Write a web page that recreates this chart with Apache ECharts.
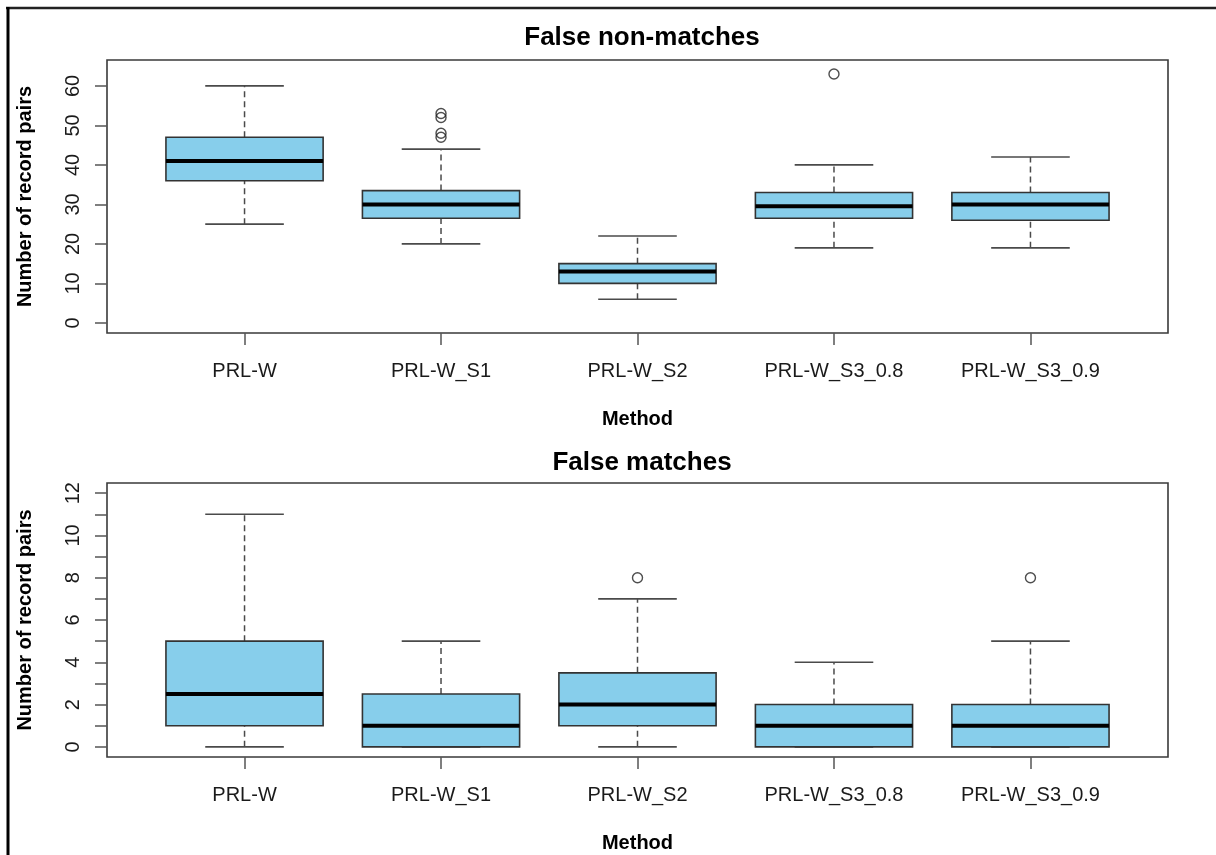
<!DOCTYPE html>
<html>
<head>
<meta charset="utf-8">
<title>False non-matches and false matches by method</title>
<script src="https://cdn.jsdelivr.net/npm/echarts@6/dist/echarts.min.js"></script>
<style>
  html, body { margin: 0; padding: 0; background: #fff; }
  #chart { width: 1216px; height: 855px; }
</style>
</head>
<body>
<div id="chart"></div>
<script>
// Methods compared, in plotting order (x positions 1..5)
const methods = ['PRL-W', 'PRL-W_S1', 'PRL-W_S2', 'PRL-W_S3_0.8', 'PRL-W_S3_0.9'];

// False non-matches: five-number summaries per method
const fnmLow    = [25, 20, 6, 19, 19];
const fnmQ1     = [36, 26.5, 10, 26.5, 26];
const fnmMedian = [41, 30, 13, 29.5, 30];
const fnmQ3     = [47, 33.5, 15, 33, 33];
const fnmHigh   = [60, 44, 22, 40, 42];
// outliers as [method position, value]
const fnmOutliers = [[2, 47], [2, 48], [2, 52], [2, 53], [4, 63]];

// False matches: five-number summaries per method
const fmLow    = [0, 0, 0, 0, 0];
const fmQ1     = [1, 0, 1, 0, 0];
const fmMedian = [2.5, 1, 2, 1, 1];
const fmQ3     = [5, 2.5, 3.5, 2, 2];
const fmHigh   = [11, 5, 7, 4, 5];
const fmOutliers = [[3, 8], [5, 8]];

// Tick values
const fnmTicks = [0, 10, 20, 30, 40, 50, 60];
const fmTicks = [0, 1, 2, 3, 4, 5, 6, 7, 8, 9, 10, 11, 12];
const fmTickLabels = [0, 2, 4, 6, 8, 10, 12];
const methodPositions = [1, 2, 3, 4, 5];

const FONT = '"Liberation Sans", Arial, Helvetica, sans-serif';
const BOX_FILL = '#87CEEB';

function boxRows(low, q1, med, q3, high) {
  return methods.map((m, i) => [i + 1, low[i], q1[i], med[i], q3[i], high[i]]);
}

// Draws one box-and-whisker glyph from a row [x, low, q1, median, q3, high]
function renderBox(params, api) {
  const x = api.value(0);
  const pLow = api.coord([x, api.value(1)]);
  const pQ1 = api.coord([x, api.value(2)]);
  const pMed = api.coord([x, api.value(3)]);
  const pQ3 = api.coord([x, api.value(4)]);
  const pHigh = api.coord([x, api.value(5)]);
  const boxW = api.size([0.8, 0])[0];
  const capW = api.size([0.4, 0])[0];
  const cx = pMed[0];
  const whisker = { stroke: '#4a4a4a', lineWidth: 1.5, lineDash: [6, 4] };
  const staple = { stroke: '#4a4a4a', lineWidth: 1.6 };
  return {
    type: 'group',
    children: [
      { type: 'line', shape: { x1: cx, y1: pQ3[1], x2: cx, y2: pHigh[1] }, style: whisker },
      { type: 'line', shape: { x1: cx, y1: pLow[1], x2: cx, y2: pQ1[1] }, style: whisker },
      { type: 'line', shape: { x1: cx - capW / 2, y1: pHigh[1], x2: cx + capW / 2, y2: pHigh[1] }, style: staple },
      { type: 'line', shape: { x1: cx - capW / 2, y1: pLow[1], x2: cx + capW / 2, y2: pLow[1] }, style: staple },
      { type: 'rect', shape: { x: cx - boxW / 2, y: pQ3[1], width: boxW, height: pQ1[1] - pQ3[1] },
        style: { fill: BOX_FILL, stroke: '#333', lineWidth: 1.6 } },
      { type: 'line', shape: { x1: cx - boxW / 2, y1: pMed[1], x2: cx + boxW / 2, y2: pMed[1] },
        style: { stroke: '#000', lineWidth: 4 } }
    ]
  };
}

function xAxisFor(gridIndex) {
  return {
    type: 'value', gridIndex, min: 0.3, max: 5.7, position: 'bottom',
    axisLine: { show: false, onZero: false },
    splitLine: { show: false },
    axisTick: { show: true, length: 12, customValues: methodPositions, lineStyle: { color: '#555', width: 1.5 } },
    axisLabel: {
      customValues: methodPositions, margin: 28,
      fontFamily: FONT, fontSize: 20, color: '#1a1a1a',
      formatter: v => methods[Math.round(v) - 1] || ''
    },
    name: 'Method', nameLocation: 'middle', nameGap: 76,
    nameTextStyle: { fontFamily: FONT, fontSize: 20, fontWeight: 'bold', color: '#000' }
  };
}

function yAxisFor(gridIndex, min, max, ticks, labels) {
  return {
    type: 'value', gridIndex, min, max, position: 'left',
    axisLine: { show: false, onZero: false },
    splitLine: { show: false },
    axisTick: { show: true, length: 12, customValues: ticks, lineStyle: { color: '#555', width: 1.5 } },
    axisLabel: {
      customValues: labels, rotate: 90, margin: 24,
      fontFamily: FONT, fontSize: 20, color: '#1a1a1a'
    },
    name: 'Number of record pairs', nameLocation: 'middle', nameRotate: 90, nameGap: 72,
    nameTextStyle: { fontFamily: FONT, fontSize: 20, fontWeight: 'bold', color: '#000' }
  };
}

const outlierStyle = {
  color: 'rgba(0,0,0,0)', borderColor: '#222', borderWidth: 1.4
};

const chart = echarts.init(document.getElementById('chart'), null, { renderer: 'canvas' });
chart.setOption({
  animation: false,
  backgroundColor: '#fff',
  title: [
    { text: 'False non-matches', left: 637, top: 20, textAlign: 'center',
      textStyle: { fontFamily: FONT, fontSize: 26, fontWeight: 'bold', color: '#000' } },
    { text: 'False matches', left: 637, top: 445, textAlign: 'center',
      textStyle: { fontFamily: FONT, fontSize: 26, fontWeight: 'bold', color: '#000' } }
  ],
  grid: [
    { left: 107, top: 60, width: 1061, height: 273, show: true, borderColor: '#3a3a3a', borderWidth: 1.6, backgroundColor: 'transparent' },
    { left: 107, top: 483, width: 1061, height: 274, show: true, borderColor: '#3a3a3a', borderWidth: 1.6, backgroundColor: 'transparent' }
  ],
  xAxis: [xAxisFor(0), xAxisFor(1)],
  yAxis: [
    yAxisFor(0, -2.56, 66.56, fnmTicks, fnmTicks),
    yAxisFor(1, -0.48, 12.48, fmTicks, fmTickLabels)
  ],
  series: [
    { type: 'custom', xAxisIndex: 0, yAxisIndex: 0, renderItem: renderBox,
      encode: { x: 0, y: [1, 2, 3, 4, 5] },
      data: boxRows(fnmLow, fnmQ1, fnmMedian, fnmQ3, fnmHigh) },
    { type: 'scatter', xAxisIndex: 0, yAxisIndex: 0, symbol: 'circle', symbolSize: 10,
      itemStyle: outlierStyle, data: fnmOutliers },
    { type: 'custom', xAxisIndex: 1, yAxisIndex: 1, renderItem: renderBox,
      encode: { x: 0, y: [1, 2, 3, 4, 5] },
      data: boxRows(fmLow, fmQ1, fmMedian, fmQ3, fmHigh) },
    { type: 'scatter', xAxisIndex: 1, yAxisIndex: 1, symbol: 'circle', symbolSize: 10,
      itemStyle: outlierStyle, data: fmOutliers }
  ],
  graphic: [
    // page frame: top and left rules
    { type: 'line', shape: { x1: 6, y1: 8, x2: 1216, y2: 8 }, style: { stroke: '#222', lineWidth: 2.5 }, silent: true },
    { type: 'line', shape: { x1: 8, y1: 7, x2: 8, y2: 855 }, style: { stroke: '#000', lineWidth: 3 }, silent: true }
  ]
});
</script>
</body>
</html>
